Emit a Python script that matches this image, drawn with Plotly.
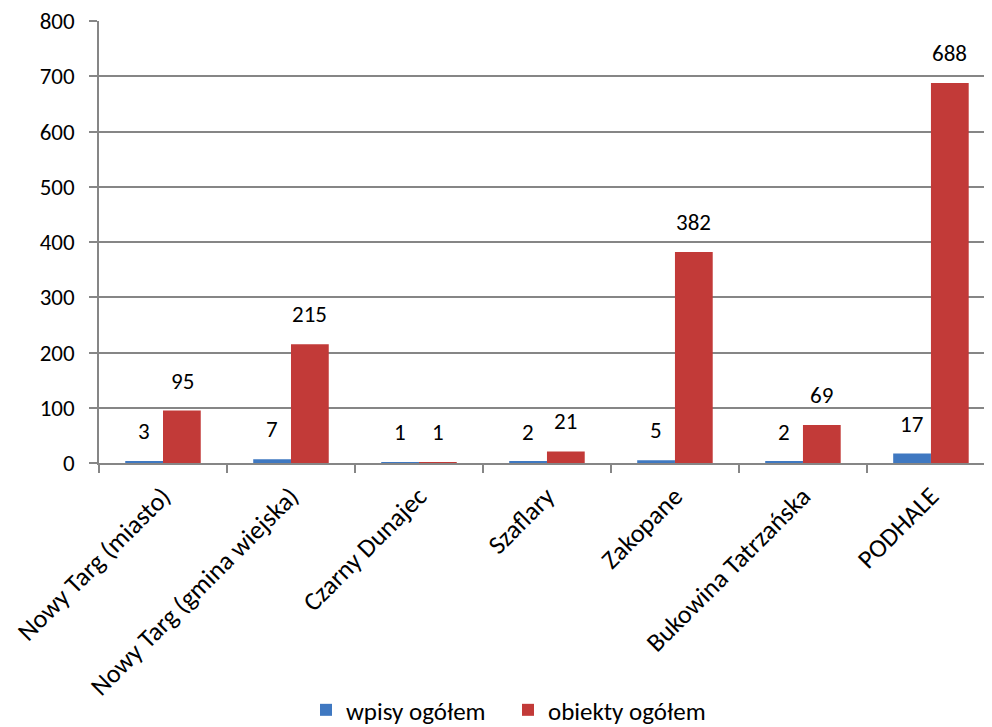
import plotly.graph_objects as go

categories = ["Nowy Targ (miasto)", "Nowy Targ (gmina wiejska)", "Czarny Dunajec",
              "Szaflary", "Zakopane", "Bukowina Tatrzańska", "PODHALE"]
wpisy = [3, 7, 1, 2, 5, 2, 17]
obiekty = [95, 215, 1, 21, 382, 69, 688]
y_ticks = [0, 100, 200, 300, 400, 500, 600, 700, 800]

FONT = "Carlito, Lato, 'Open Sans', sans-serif"
FS = 23
BLUE = "#3F78C1"
RED = "#C23A38"

fig = go.Figure()
fig.add_trace(go.Bar(name="wpisy ogółem", x=categories, y=wpisy,
                     marker=dict(color=BLUE, line=dict(width=0))))
fig.add_trace(go.Bar(name="obiekty ogółem", x=categories, y=obiekty,
                     marker=dict(color=RED, line=dict(width=0))))

annotations = []
for c, a, b in zip(categories, wpisy, obiekty):
    annotations.append(dict(x=c, y=a, text=str(a), showarrow=False, xref="x", yref="y",
                            xshift=-19, yshift=14, yanchor="bottom",
                            font=dict(family=FONT, size=FS, color="#000")))
    annotations.append(dict(x=c, y=b, text=str(b), showarrow=False, xref="x", yref="y",
                            xshift=19, yshift=14, yanchor="bottom",
                            font=dict(family=FONT, size=FS, color="#000")))

fig.update_layout(
    width=984, height=719,
    margin=dict(l=91, r=0, t=13, b=264, autoexpand=False),
    paper_bgcolor="white", plot_bgcolor="white",
    barmode="group", bargap=0.41, bargroupgap=0,
    font=dict(family=FONT, size=FS, color="#000"),
    showlegend=True,
    legend=dict(orientation="h", x=0.458, xanchor="center", y=-0.559, yanchor="middle",
                font=dict(family=FONT, size=25), itemwidth=30, traceorder="normal",
                entrywidth=157),
    annotations=annotations,
    xaxis=dict(range=[-0.5, 6.477], tickangle=-45, showline=True, linecolor="#868686",
               linewidth=1.5, ticks="outside", tickson="boundaries", ticklen=8,
               tickcolor="#868686", tickwidth=1.5, showgrid=False, automargin=False,
               ticklabelstandoff=6, tickfont=dict(family=FONT, size=26)),
    yaxis=dict(range=[0, 800], tickvals=y_ticks, showline=True, linecolor="#868686",
               linewidth=1.5, ticks="outside", ticklen=8, tickcolor="#868686", tickwidth=1.5,
               showgrid=True, gridcolor="#868686", gridwidth=1.5, zeroline=False,
               automargin=False, ticklabelstandoff=10, ticklabeloverflow="allow",
               tickfont=dict(family=FONT, size=FS)),
)

fig.write_html("out.html")
